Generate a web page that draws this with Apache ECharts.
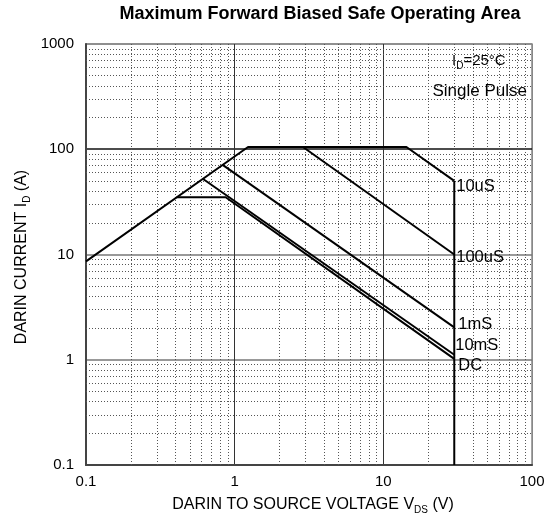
<!DOCTYPE html>
<html>
<head>
<meta charset="utf-8">
<script src="https://cdn.jsdelivr.net/npm/echarts@6/dist/echarts.min.js"></script>
<style>
html,body{margin:0;padding:0;background:#fff;}
#chart{width:555px;height:522px;}
</style>
</head>
<body>
<div id="chart"></div>
<script>
// ---- data ----
const xTicks = [0.1, 1, 10, 100];
const yTicks = [0.1, 1, 10, 100, 1000];
const pulse10usV = [0.1, 1.23, 14.3, 30];
const pulse10usI = [8.6, 105, 105, 50];
const pulse100usV = [2.88, 30];
const pulse100usI = [105, 10];
const pulse1msV = [0.83, 30];
const pulse1msI = [71, 2.03];
const pulse10msV = [0.61, 30];
const pulse10msI = [52.5, 1.115];
const dcV = [0.407, 0.87, 30];
const dcI = [35, 35, 1.02];
const boundaryV = [30, 30];
const boundaryI = [50, 0.1];
const curveNames = ['10uS', '100uS', '1mS', '10mS', 'DC'];

const FONT = 'Liberation Sans, Arial, sans-serif';
function pts(xs, ys) { return xs.map((x, i) => [x, ys[i]]); }

// minor grid values (2..9 within each decade)
const minorX = [], minorY = [];
for (let d = 0; d < xTicks.length - 1; d++) for (let k = 2; k <= 9; k++) minorX.push(+(xTicks[d] * k).toPrecision(3));
for (let d = 0; d < yTicks.length - 1; d++) for (let k = 2; k <= 9; k++) minorY.push(+(yTicks[d] * k).toPrecision(3));

const chart = echarts.init(document.getElementById('chart'), null, {renderer: 'canvas'});

const lineBase = {
  type: 'line', symbol: 'none', silent: true, animation: false,
  lineStyle: {color: '#000', width: 2}, z: 5
};
function curve(name, xs, ys, offset) {
  return Object.assign({}, lineBase, {
    name: name, data: pts(xs, ys),
    endLabel: {show: true, formatter: name, color: '#000', fontFamily: FONT, fontSize: 16.5,
      offset: offset, distance: 2}
  });
}

chart.setOption({
  animation: false,
  backgroundColor: '#fff',
  grid: {left: 86, right: 23, top: 44, bottom: 57, show: true, borderColor: '#888', borderWidth: 1.5},
  xAxis: {
    type: 'log', logBase: 10, min: 0.1, max: 100,
    axisLine: {show: true, lineStyle: {color: '#444', width: 2}},
    axisTick: {show: false},
    axisLabel: {color: '#000', fontFamily: FONT, fontSize: 15, margin: 9,
      formatter: v => String(xTicks.find(t => Math.abs(Math.log10(t) - Math.log10(v)) < 1e-6) ?? v)},
    splitLine: {show: true, lineStyle: {color: ['#888', '#333', '#333', '#888'], width: 1}}
  },
  yAxis: {
    type: 'log', logBase: 10, min: 0.1, max: 1000,
    axisLine: {show: true, lineStyle: {color: '#444', width: 2}},
    axisTick: {show: false},
    axisLabel: {color: '#000', fontFamily: FONT, fontSize: 15, margin: 12,
      formatter: v => String(yTicks.find(t => Math.abs(Math.log10(t) - Math.log10(v)) < 1e-6) ?? v)},
    splitLine: {show: true, lineStyle: {color: ['#444', '#777', '#777', '#111', '#888'], width: 1.5}}
  },
  series: [
    {
      type: 'line', symbol: 'none', silent: true, data: [[30, 0.1]], lineStyle: {opacity: 0}, z: 1,
      markLine: {
        silent: true, symbol: ['none', 'none'], animation: false, label: {show: false},
        lineStyle: {color: '#555', width: 1, type: [1, 2]},
        emphasis: {disabled: true},
        data: minorX.map(v => ({xAxis: v})).concat(minorY.map(v => ({yAxis: v})))
      }
    },
    curve(curveNames[0], pulse10usV, pulse10usI, [0, 6]),
    curve(curveNames[1], pulse100usV, pulse100usI, [0, 3]),
    curve(curveNames[2], pulse1msV, pulse1msI, [2, -3]),
    curve(curveNames[3], pulse10msV, pulse10msI, [-1, -9]),
    curve(curveNames[4], dcV, dcI, [2, 7]),
    Object.assign({}, lineBase, {name: 'boundary', data: pts(boundaryV, boundaryI)})
  ],
  graphic: [
    {type: 'text', x: 320, y: 14, style: {text: 'Maximum Forward Biased Safe Operating Area',
      align: 'center', verticalAlign: 'middle', font: 'bold 18px ' + FONT, fill: '#000'}},
    {type: 'text', x: 452, y: 61, style: {
      text: '{a|I}{s|D}{a|=25°C}', verticalAlign: 'middle', fill: '#000',
      rich: {a: {fontFamily: FONT, fontSize: 15, fill: '#000'}, s: {fontFamily: FONT, fontSize: 10, fill: '#000', padding: [10, 0, 0, 0]}}
    }},
    {type: 'text', x: 527, y: 91, style: {text: 'Single Pulse', align: 'right', verticalAlign: 'middle',
      fontFamily: FONT, fontSize: 17, fill: '#000'}},
    {type: 'text', x: 313, y: 505, style: {
      text: '{a|DARIN TO SOURCE VOLTAGE V}{s|DS}{a| (V)}', align: 'center', verticalAlign: 'middle', fill: '#000',
      rich: {a: {fontFamily: FONT, fontSize: 16, fill: '#000'}, s: {fontFamily: FONT, fontSize: 10, fill: '#000', padding: [10, 0, 0, 0]}}
    }},
    {type: 'text', x: 22, y: 257, rotation: Math.PI / 2, style: {
      text: '{a|DARIN CURRENT I}{s|D}{a| (A)}', align: 'center', verticalAlign: 'middle', fill: '#000',
      rich: {a: {fontFamily: FONT, fontSize: 16, fill: '#000'}, s: {fontFamily: FONT, fontSize: 10, fill: '#000', padding: [10, 0, 0, 0]}}
    }}
  ]
});
</script>
</body>
</html>
